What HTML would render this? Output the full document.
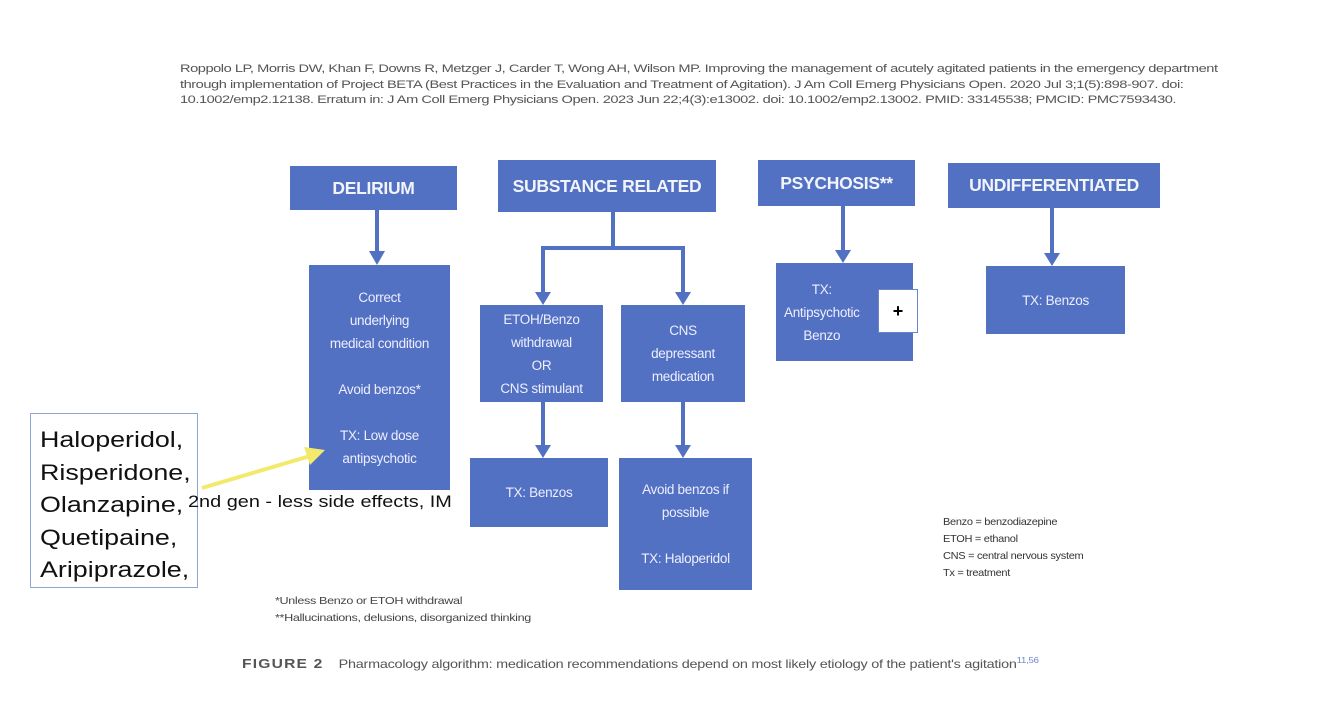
<!DOCTYPE html>
<html><head><meta charset="utf-8"><style>
body{margin:0;width:1334px;height:724px;background:#fff;position:relative;overflow:hidden;font-family:"Liberation Sans",sans-serif}
.b{position:absolute;background:#5271c2;color:#eef;display:flex;align-items:center;justify-content:center;text-align:center;font-size:13.5px;line-height:23px;letter-spacing:-0.3px}
.h{font-weight:bold;font-size:17.5px;color:#f2f4fb;letter-spacing:-0.3px}
.t{position:absolute;white-space:nowrap;transform-origin:0 0}
</style></head><body>
<div class="t" style="left:180px;top:62px;font-size:11px;line-height:15.5px;color:#555;letter-spacing:-0.35px;transform:scaleX(1.33)">Roppolo LP, Morris DW, Khan F, Downs R, Metzger J, Carder T, Wong AH, Wilson MP. Improving the management of acutely agitated patients in the emergency department<br>through implementation of Project BETA (Best Practices in the Evaluation and Treatment of Agitation). J Am Coll Emerg Physicians Open. 2020 Jul 3;1(5):898-907. doi:<br>10.1002/emp2.12138. Erratum in: J Am Coll Emerg Physicians Open. 2023 Jun 22;4(3):e13002. doi: 10.1002/emp2.13002. PMID: 33145538; PMCID: PMC7593430.</div>

<div class="b h" style="left:290px;top:166px;width:167px;height:44px">DELIRIUM</div>
<div class="b h" style="left:498px;top:160px;width:218px;height:52px">SUBSTANCE RELATED</div>
<div class="b h" style="left:758px;top:160px;width:157px;height:46px">PSYCHOSIS**</div>
<div class="b h" style="left:948px;top:163px;width:212px;height:45px">UNDIFFERENTIATED</div>

<div class="b" style="left:309px;top:265px;width:141px;height:225px">Correct<br>underlying<br>medical condition<br><br>Avoid benzos*<br><br>TX: Low dose<br>antipsychotic</div>
<div class="b" style="left:480px;top:305px;width:123px;height:97px">ETOH/Benzo<br>withdrawal<br>OR<br>CNS stimulant</div>
<div class="b" style="left:621px;top:305px;width:124px;height:97px">CNS<br>depressant<br>medication</div>
<div class="b" style="left:470px;top:458px;width:138px;height:69px">TX: Benzos</div>
<div class="b" style="left:619px;top:458px;width:133px;height:132px">Avoid benzos if<br>possible<br><br>TX: Haloperidol</div>
<div class="b" style="left:776px;top:263px;width:137px;height:98px;justify-content:flex-start;padding-left:8px;box-sizing:border-box">TX:<br>Antipsychotic<br>Benzo</div>
<div style="position:absolute;left:878px;top:289px;width:38px;height:42px;background:#fff;border:1px solid #6a86c8;display:flex;align-items:center;justify-content:center;font-size:18px;font-weight:bold">+</div>
<div class="b" style="left:986px;top:266px;width:139px;height:68px">TX: Benzos</div>

<svg style="position:absolute;left:0;top:0" width="1334" height="724">
<g stroke="#5271c2" stroke-width="4" fill="none">
<path d="M377 210V253"/><path d="M613 212V248M543 248H683M543 246V294M683 246V294"/>
<path d="M543 402V447M683 402V447M843 206V252M1052 208V255"/>
</g>
<g fill="#5271c2">
<path d="M369 251L385 251L377 265Z"/><path d="M535 292L551 292L543 305Z"/><path d="M675 292L691 292L683 305Z"/>
<path d="M535 445L551 445L543 458Z"/><path d="M675 445L691 445L683 458Z"/><path d="M835 250L851 250L843 263Z"/><path d="M1044 253L1060 253L1052 266Z"/>
</g>
<path d="M202 488L310 456" stroke="#f3e96a" stroke-width="4"/>
<path d="M325 450L304 447L310 465Z" fill="#f3e96a"/>
</svg>

<div style="position:absolute;left:30px;top:413px;width:168px;height:175px;border:1.5px solid #8ea6d4;box-sizing:border-box"></div>
<div class="t" style="left:40px;top:424px;font-size:22px;line-height:32.5px;color:#111;transform:scaleX(1.22)">Haloperidol,<br>Risperidone,<br>Olanzapine,<br>Quetipaine,<br>Aripiprazole,</div>
<div class="t" style="left:188px;top:492px;font-size:17px;color:#111;transform:scaleX(1.17)">2nd gen - less side effects, IM</div>

<div class="t" style="left:943px;top:514px;font-size:10.5px;line-height:17px;color:#333;letter-spacing:-0.3px;transform:scaleX(1.05)">Benzo = benzodiazepine<br>ETOH = ethanol<br>CNS = central nervous system<br>Tx = treatment</div>
<div class="t" style="left:275px;top:593px;font-size:10.5px;line-height:17px;color:#444;letter-spacing:-0.3px;transform:scaleX(1.2)">*Unless Benzo or ETOH withdrawal<br>**Hallucinations, delusions, disorganized thinking</div>
<div class="t" style="left:242px;top:656px;font-size:12px;color:#555;letter-spacing:-0.2px;transform:scaleX(1.2)"><b style="letter-spacing:1px;font-size:13px">FIGURE 2</b>&nbsp;&nbsp;&nbsp;&nbsp;Pharmacology algorithm: medication recommendations depend on most likely etiology of the patient's agitation<sup style="color:#6a86c8;font-size:8px">11,56</sup></div>
</body></html>
